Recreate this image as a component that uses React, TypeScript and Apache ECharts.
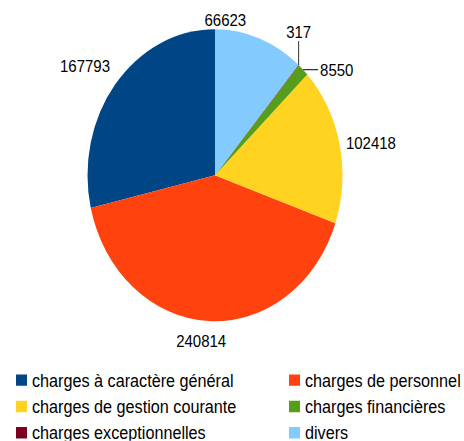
import React, { useEffect, useRef } from "react";
import * as echarts from "echarts";

const categories = [
  "charges à caractère général",
  "charges de personnel",
  "charges de gestion courante",
  "charges financières",
  "charges exceptionnelles",
  "divers",
];
const values = [167793, 240814, 102418, 8550, 317, 66623];

const colors = ["#004586", "#ff420e", "#ffd320", "#579d1c", "#7e0021", "#83caff"];

const STRETCH = 1.145;
const W = 464;
const H = 441 / STRETCH;
const CX = 215;
const CY = 153;
const R = 127.5;
const LABEL_GAP = 8;
const FONT = "'Liberation Sans', Arial, sans-serif";
const leaderStyle: Record<number, "h" | "v"> = { 3: "h", 4: "v" };
const labelNudge: Record<number, [number, number]> = {
  0: [-5, 3.5],
  1: [-6, 0],
  2: [-2, 6],
  5: [-42, 4.5],
};

export default function App() {
  const ref = useRef<HTMLDivElement>(null);
  useEffect(() => {
    const chart = echarts.init(ref.current!, null, { renderer: "svg" });
    const total = values.reduce((a, b) => a + b, 0);
    let cum = 0;
    const mids = values.map((v) => {
      const start = cum;
      cum += v;
      return ((90 + ((start + v / 2) / total) * 360) * Math.PI) / 180;
    });
    const textStyle = { color: "#000", fontFamily: FONT, fontSize: 16.2 };
    const legendBase = {
      orient: "vertical",
      top: 324,
      height: 90,
      itemWidth: 11,
      itemHeight: 10,
      itemGap: 7,
      padding: 0,
      icon: "rect",
      selectedMode: false,
      textStyle,
    };
    chart.setOption({
      animation: false,
      color: colors,
      legend: [
        { ...legendBase, left: 16, data: [categories[0], categories[2], categories[4]] },
        { ...legendBase, left: 289, data: [categories[1], categories[3], categories[5]] },
      ],
      series: [
        {
          type: "pie",
          center: [CX, CY],
          radius: R,
          startAngle: 90,
          clockwise: false,
          avoidLabelOverlap: false,
          minShowLabelAngle: 0,
          silent: true,
          emphasis: { scale: false },
          itemStyle: { borderWidth: 0 },
          label: {
            show: true,
            position: "outside",
            formatter: "{c}",
            color: "#000",
            fontFamily: FONT,
            fontSize: 15,
          },
          labelLine: { show: false },
          labelLayout: (p: any) => {
            const i = p.dataIndex;
            const a = mids[i];
            const ux = Math.cos(a);
            const uy = -Math.sin(a);
            const w = p.labelRect.width;
            const h = p.labelRect.height;
            const ex = CX + R * ux;
            const ey = CY + R * uy;
            const lead = leaderStyle[i];
            if (lead === "h") {
              const x2 = ex + 15;
              return {
                x: x2 + 2,
                y: ey,
                align: "left",
                verticalAlign: "middle",
                labelLinePoints: [[ex, ey], [x2, ey], [x2, ey]],
              };
            }
            if (lead === "v") {
              const y2 = ey - 21;
              return {
                x: ex,
                y: y2 - 1,
                align: "center",
                verticalAlign: "bottom",
                labelLinePoints: [[ex, ey], [ex, y2], [ex, y2]],
              };
            }
            const half = (Math.abs(ux) * w) / 2 + (Math.abs(uy) * h) / 2;
            const d = R + LABEL_GAP + half;
            const n = labelNudge[i] || [0, 0];
            return {
              x: CX + d * ux + n[0],
              y: CY + d * uy + n[1],
              align: "center",
              verticalAlign: "middle",
            };
          },
          data: categories.map((name, i) => ({
            name,
            value: values[i],
            labelLine: leaderStyle[i]
              ? { show: true, lineStyle: { color: "#333", width: 1 } }
              : { show: false },
          })),
        },
      ],
    });
    return () => chart.dispose();
  }, []);
  return (
    <div
      style={{
        position: "fixed",
        left: 0,
        top: 0,
        width: W,
        height: H,
        transform: `scaleY(${STRETCH})`,
        transformOrigin: "0 0",
        background: "#fff",
      }}
    >
      <div ref={ref} style={{ width: W, height: H }} />
    </div>
  );
}
